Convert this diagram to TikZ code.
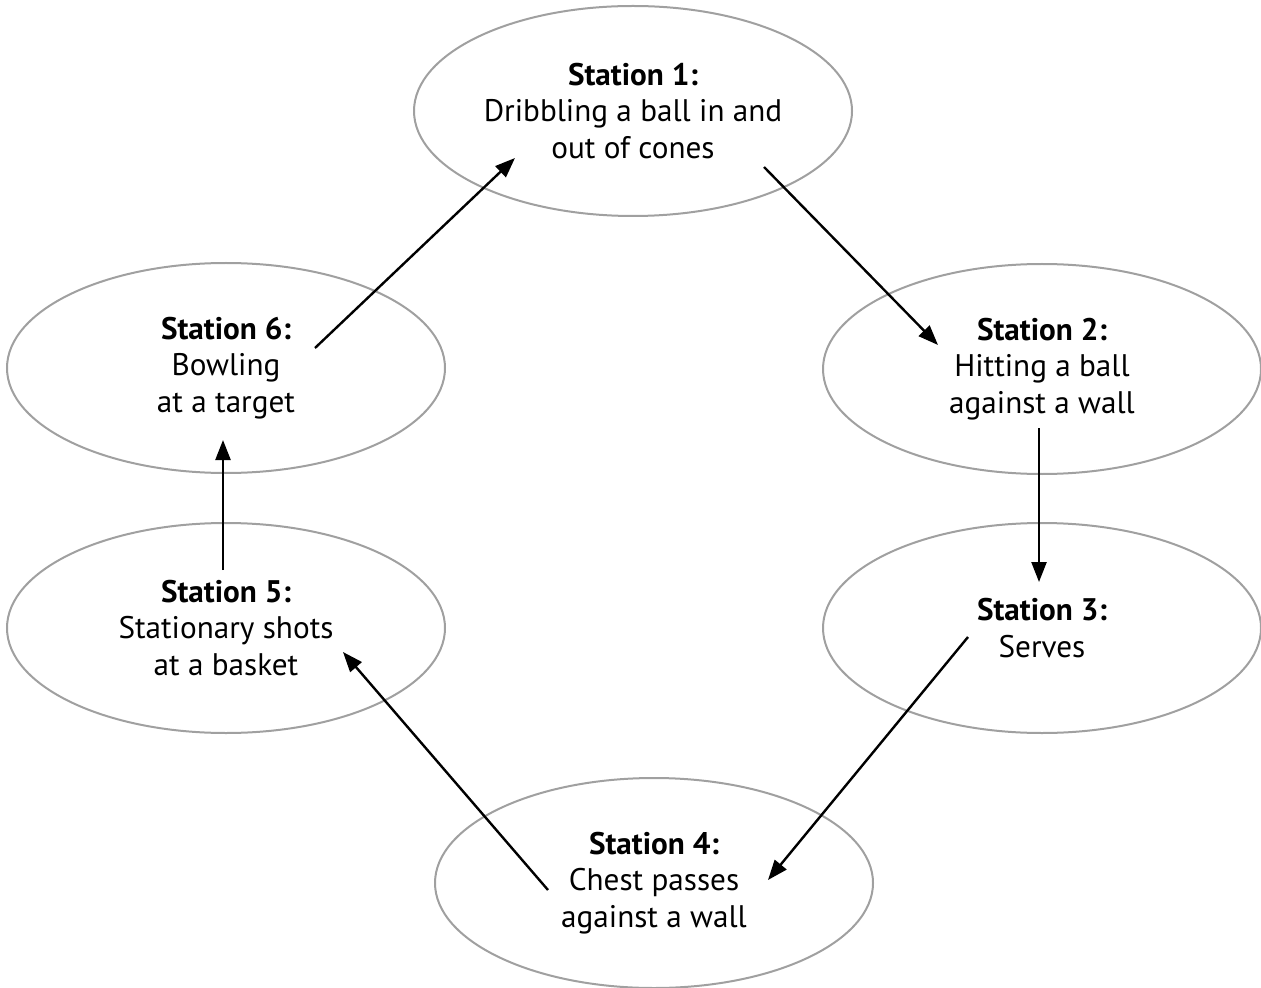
\documentclass[tikz,border=0pt]{standalone}
\usepackage{fontspec}
\setmainfont{PT Sans}
\usepackage{tikz}
\usetikzlibrary{shapes.geometric,arrows.meta,calc}
\definecolor{rim}{RGB}{160,160,160}

\begin{document}
\begin{tikzpicture}[x=0.5pt,y=-0.5pt,
 st/.style={ellipse,draw=rim,line width=1pt,inner sep=0pt,align=center,minimum width=219pt,minimum height=105pt,font=\fontsize{15.6}{18.4}\selectfont},
 go/.style={-{Triangle[length=10pt,width=7.5pt]},line width=1.2pt}]
 \useasboundingbox (0,0) rectangle (1261,988);
 \node[st](s1) at (633,111){\textbf{Station 1:}\\Dribbling a ball in and\\out of cones};
 \node[st](s2) at (1042,369){\textbf{Station 2:}\\Hitting a ball\\against a wall};
 \node[st](s3) at (1042,628){\textbf{Station 3:}\\Serves};
 \node[st](s4) at (654,883){\textbf{Station 4:}\\Chest passes\\against a wall};
 \node[st](s5) at (226,628){\textbf{Station 5:}\\Stationary shots\\at a basket};
 \node[st](s6) at (226,368){\textbf{Station 6:}\\Bowling\\at a target};
 \draw[go]($(s6)+(89,-20)$)--($(s1)+(-118,47)$);
 \draw[go]($(s1)+(131,56)$)--($(s2)+(-104,-24)$);
 \draw[go]($(s2)+(-3,59)$)--($(s3)+(-3,-46)$);
 \draw[go]($(s3)+(-74,9)$)--($(s4)+(114,-3)$);
 \draw[go]($(s4)+(-106,7)$)--($(s5)+(117,24)$);
 \draw[go]($(s5)+(-3,-58)$)--($(s6)+(-3,72)$);
\end{tikzpicture}
\end{document}
